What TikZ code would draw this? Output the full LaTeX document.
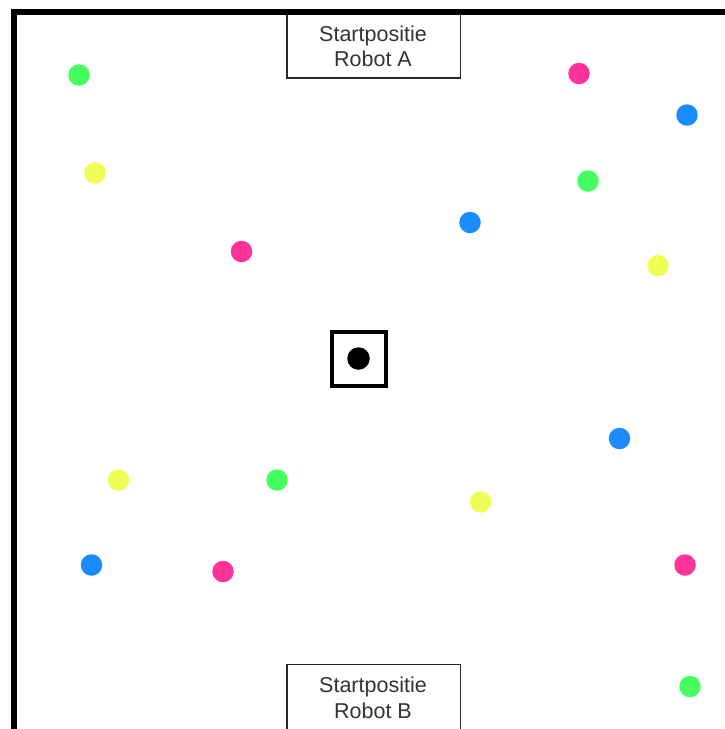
\documentclass[tikz,border=0pt]{standalone}
\usepackage{fontspec}
\setmainfont{Liberation Sans}
\definecolor{dotgreen}{HTML}{44FF5E}
\definecolor{dotpink}{HTML}{FF3399}
\definecolor{dotblue}{HTML}{1A8CFF}
\definecolor{dotyellow}{HTML}{EEFF55}
\tikzset{
  lbl/.style={align=center, font=\fontsize{21.5}{25.5}\selectfont, text=black!80, inner sep=0pt},
  boxline/.style={draw=black!85, line width=1.8pt},
  wall/.style={line width=6pt},
  gdot/.style={circle, fill=dotgreen, minimum size=21.5pt, inner sep=0pt},
  pdot/.style={circle, fill=dotpink, minimum size=21.5pt, inner sep=0pt},
  bdot/.style={circle, fill=dotblue, minimum size=21.5pt, inner sep=0pt},
  ydot/.style={circle, fill=dotyellow, minimum size=21.5pt, inner sep=0pt},
}
\begin{document}
\begin{tikzpicture}[x=1pt,y=-1pt]
\useasboundingbox (0,0) rectangle (725,729);
\fill[white] (0,0) rectangle (725,729);
\begin{scope}
\clip (0,0) rectangle (725,729);
% boxes
\draw[boxline] (287,11) rectangle (460.5,78);
\node[lbl] (boxA) at (373,46.5) {Startpositie\\Robot A};
\draw[boxline] (287,664.5) rectangle (460.5,760);
\node[lbl] (boxB) at (373,698) {Startpositie\\Robot B};
% walls
\draw[wall] (13.5,760) -- (13.5,11.5) -- (760,11.5);
\end{scope}
% center marker
\node[draw, line width=4pt, minimum size=54pt, inner sep=0pt] (mark) at (359,359) {};
\node[circle, fill=black, minimum size=22.5pt, inner sep=0pt] (ball) at (358.5,358.5) {};
% dots
\node[gdot] (g1) at (79,75) {};
\node[pdot] (p1) at (579,73.5) {};
\node[bdot] (b1) at (687,115) {};
\node[ydot] (y1) at (95,173) {};
\node[gdot] (g2) at (588,181) {};
\node[bdot] (b2) at (470,222.5) {};
\node[pdot] (p2) at (241.5,251.5) {};
\node[ydot] (y2) at (658,265.5) {};
\node[bdot] (b3) at (619.5,438.5) {};
\node[ydot] (y3) at (118.5,480) {};
\node[gdot] (g3) at (277,480) {};
\node[ydot] (y4) at (480.5,502) {};
\node[bdot] (b4) at (91.5,565) {};
\node[pdot] (p3) at (223,571.5) {};
\node[pdot] (p4) at (685,565) {};
\node[gdot] (g4) at (690,686.5) {};
\end{tikzpicture}
\end{document}
